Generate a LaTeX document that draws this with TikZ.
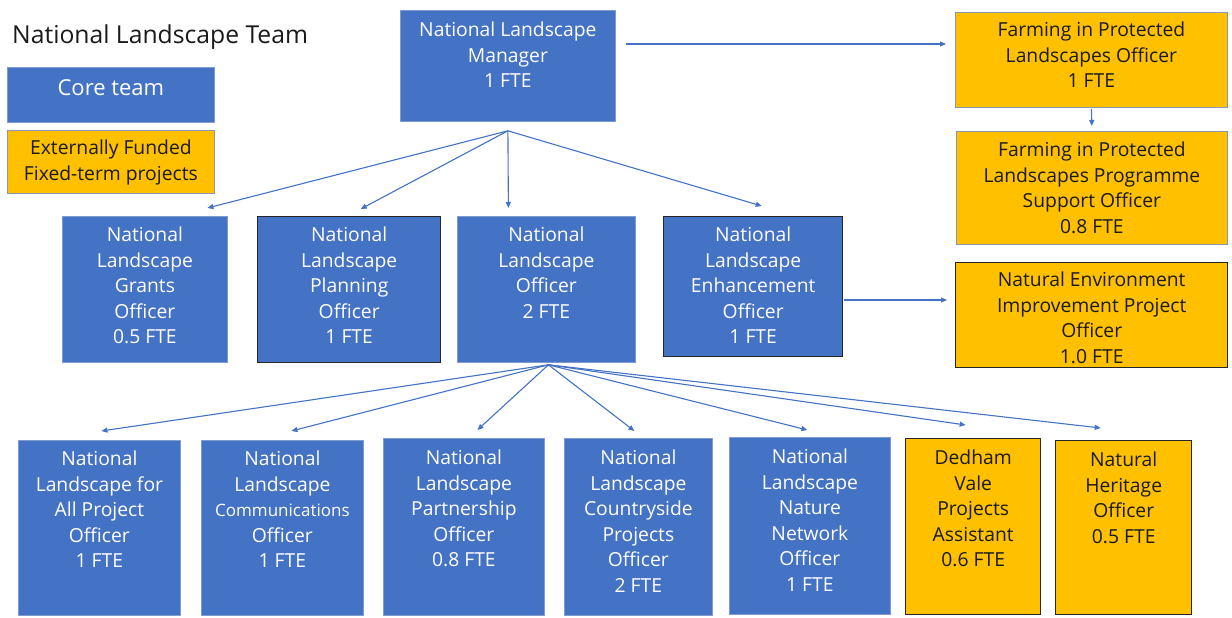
\documentclass[tikz,border=0pt]{standalone}
\usepackage{fontspec}
\setmainfont{Open Sans}
\usetikzlibrary{arrows.meta}
\definecolor{nlblue}{HTML}{4472C4}
\definecolor{nledge}{HTML}{7F9BD0}
\definecolor{nlorange}{HTML}{FFC000}
\definecolor{orangeedge}{HTML}{8C97A8}
\definecolor{darkedge}{HTML}{262626}
\definecolor{inkc}{HTML}{1A1A1A}
\newcommand{\nlfont}{\fontsize{19.3}{25.5}\selectfont}
\newcommand{\mkbox}[8]{%
  \node[#2, anchor=north west, minimum width={(#5-#3)*1pt}, minimum height={(#6-#4)*1pt}] (#1) at (#3,#4) {};
  \node[txt#2, anchor=north] (#1-t) at ([yshift=-#7pt]#1.north) {#8};
}
\tikzset{
  bluebox/.style={fill=nlblue, draw=nledge, line width=0.8pt, inner sep=0pt},
  darkbluebox/.style={fill=nlblue, draw=darkedge, line width=1.4pt, inner sep=0pt},
  orangebox/.style={fill=nlorange, draw=orangeedge, line width=0.8pt, inner sep=0pt},
  darkorangebox/.style={fill=nlorange, draw=darkedge, line width=1.4pt, inner sep=0pt},
  txtbluebox/.style={text=white, font=\nlfont, align=center, inner sep=0pt},
  txtdarkbluebox/.style={text=white, font=\nlfont, align=center, inner sep=0pt},
  txtorangebox/.style={text=inkc, font=\nlfont, align=center, inner sep=0pt},
  txtdarkorangebox/.style={text=inkc, font=\nlfont, align=center, inner sep=0pt},
  arr/.style={draw=nlblue, line width=1.1pt, -{Triangle[length=6pt,width=5pt]}}
}
\begin{document}
\begin{tikzpicture}[x=1pt,y=-1pt]
\useasboundingbox (0,0) rectangle (1232,618);
\fill[white] (0,0) rectangle (1232,618);

% title and legend
\node[anchor=base west, inner sep=0pt, text=inkc, font=\fontsize{24.7}{28}\selectfont] (title) at (12,44) {National Landscape Team};
\mkbox{core}{bluebox}{7}{67}{214}{122}{12}{\fontsize{22}{26}\selectfont Core team}
\mkbox{ext}{orangebox}{7}{130}{214}{193}{10}{Externally Funded\\Fixed-term projects}

% top
\mkbox{mgr}{bluebox}{400}{10}{615}{121}{12}{National Landscape\\Manager\\1 FTE}
\mkbox{fipl}{orangebox}{955}{12}{1227}{107}{10}{Farming in Protected\\Landscapes Officer\\1 FTE}
\mkbox{fipls}{orangebox}{956}{131}{1227}{244}{11}{Farming in Protected\\Landscapes Programme\\Support Officer\\0.8 FTE}
\mkbox{neip}{darkorangebox}{955}{262}{1227}{367}{10}{Natural Environment\\Improvement Project\\Officer\\1.0 FTE}

% middle row
\mkbox{grants}{bluebox}{62}{216}{227}{362}{11}{National\\Landscape\\Grants\\Officer\\0.5 FTE}
\mkbox{planning}{darkbluebox}{257}{216}{440}{362}{11}{National\\Landscape\\Planning\\Officer\\1 FTE}
\mkbox{officer}{bluebox}{457}{216}{635}{362}{11}{National\\Landscape\\Officer\\2 FTE}
\mkbox{enh}{darkbluebox}{663}{216}{842}{356}{11}{National\\Landscape\\Enhancement\\Officer\\1 FTE}

% bottom row
\mkbox{forall}{bluebox}{18}{440}{180}{615}{11}{National\\Landscape for\\All Project\\Officer\\1 FTE}
\mkbox{comms}{bluebox}{201}{440}{363}{615}{11}{National\\Landscape\\{\fontsize{17}{25.5}\selectfont Communications}\\Officer\\1 FTE}
\mkbox{partner}{bluebox}{383}{438}{544}{615}{12}{National\\Landscape\\Partnership\\Officer\\0.8 FTE}
\mkbox{country}{bluebox}{564}{438}{712}{615}{12}{National\\Landscape\\Countryside\\Projects\\Officer\\2 FTE}
\mkbox{nature}{bluebox}{729}{437}{890}{614}{12}{National\\Landscape\\Nature\\Network\\Officer\\1 FTE}
\mkbox{dedham}{darkorangebox}{905}{438}{1040}{614}{12}{Dedham\\Vale\\Projects\\Assistant\\0.6 FTE}
\mkbox{heritage}{darkorangebox}{1055}{440}{1191}{614}{12}{Natural\\Heritage\\Officer\\0.5 FTE}

% connectors
\coordinate (mgrhub) at ([yshift=-9pt]mgr.south);
\draw[arr] (mgrhub) -- ([xshift=62.5pt,yshift=8pt]grants.north);
\draw[arr] (mgrhub) -- ([xshift=11.5pt,yshift=7pt]planning.north);
\draw[arr] (mgrhub) -- ([xshift=-38pt,yshift=8pt]officer.north);
\draw[arr] (mgrhub) -- ([xshift=8.5pt,yshift=10pt]enh.north);

\draw[arr] ([xshift=10pt,yshift=-34pt]mgr.north east) -- ([xshift=-9pt,yshift=-32pt]fipl.north west);
\draw[arr] ([yshift=-1pt]fipl.south) -- ([yshift=5pt]fipls.north);
\draw[arr] ([xshift=1pt,yshift=-84pt]enh.north east) -- ([xshift=-8pt,yshift=-38pt]neip.north west);

\coordinate (offhub) at ([xshift=2pt,yshift=-2pt]officer.south);
\draw[arr] (offhub) -- ([xshift=2pt,yshift=9pt]forall.north);
\draw[arr] (offhub) -- ([xshift=9pt,yshift=9pt]comms.north);
\draw[arr] (offhub) -- ([xshift=13.5pt,yshift=8pt]partner.north);
\draw[arr] (offhub) -- ([xshift=-4pt,yshift=7pt]country.north);
\draw[arr] (offhub) -- ([xshift=-2.5pt,yshift=7pt]nature.north);
\draw[arr] (offhub) -- ([xshift=-7.5pt,yshift=13pt]dedham.north);
\draw[arr] (offhub) -- ([xshift=-23pt,yshift=12pt]heritage.north);
\end{tikzpicture}
\end{document}
